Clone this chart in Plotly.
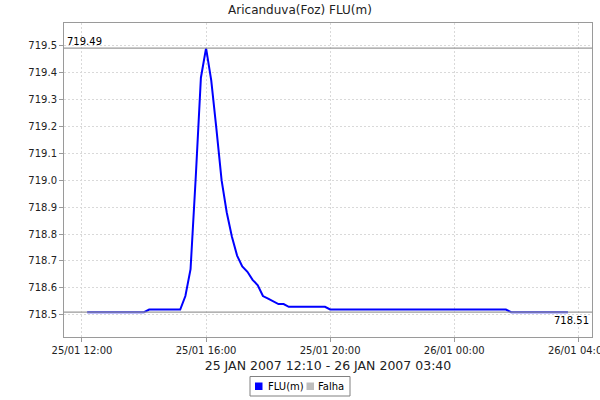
import plotly.graph_objects as go
import pandas as pd

# ---- data ----
times = pd.date_range("2007-01-25 12:10", "2007-01-26 03:40", freq="10min")
flu = (
    [718.51] * 12 +
    [718.52] * 7 +
    [718.57, 718.67, 719.01, 719.38, 719.49, 719.37, 719.19, 719.00, 718.88, 718.79,
     718.72, 718.68, 718.66, 718.63, 718.61, 718.57, 718.56, 718.55, 718.54, 718.54] +
    [718.53] * 8 +
    [718.52] * 35 +
    [718.51] * 12
)
ref_values = [719.49, 718.51]
ref_labels = ["719.49", "718.51"]
title_text = "Aricanduva(Foz) FLU(m)"
xtitle_text = "25 JAN 2007 12:10 - 26 JAN 2007 03:40"
series_names = ["FLU(m)", "Falha"]
series_colors = ["#0000FF", "#BDBDBD"]

FONT = "DejaVu Sans"
W, H = 600, 400
ML, MR, MT, MB = 64, 8, 23, 63
PW, PH = W - ML - MR, H - MT - MB


def px_x(x):
    return (x - ML) / PW


def px_y(y):
    return (H - MB - y) / PH


fig = go.Figure()
fig.add_trace(go.Scatter(
    x=times, y=flu, mode="lines", name=series_names[0],
    line=dict(color=series_colors[0], width=2),
    showlegend=False,
))

# reference lines
for v in ref_values:
    fig.add_shape(type="line", xref="paper", x0=0, x1=1, yref="y", y0=v, y1=v,
                  line=dict(color="#9a9a9a", width=1.3), layer="above")
fig.add_annotation(xref="paper", x=0.002, y=ref_values[0], yref="y",
                   text=ref_labels[0], showarrow=False, xanchor="left", yanchor="bottom",
                   yshift=-1, font=dict(family=FONT, size=10, color="#000"))
fig.add_annotation(xref="paper", x=0.998, y=ref_values[1], yref="y",
                   text=ref_labels[1], showarrow=False, xanchor="right", yanchor="top",
                   yshift=-1, font=dict(family=FONT, size=10, color="#000"))

# legend drawn manually (box + swatches + labels)
fig.add_shape(type="rect", xref="paper", yref="paper",
              x0=px_x(250), x1=px_x(350), y0=px_y(376.5), y1=px_y(396),
              line=dict(color="#808080", width=1), fillcolor="white")
legend_items = [(255, 266), (306.5, 316)]
for (sx, tx), name, col in zip(legend_items, series_names, series_colors):
    fig.add_shape(type="rect", xref="paper", yref="paper",
                  x0=px_x(sx), x1=px_x(sx + 7.5), y0=px_y(382.5), y1=px_y(390),
                  line=dict(width=0), fillcolor=col)
    fig.add_annotation(xref="paper", yref="paper", x=px_x(tx), y=px_y(386.3),
                       text=name, showarrow=False, xanchor="left", yanchor="middle",
                       font=dict(family=FONT, size=10, color="#000"))

axis_common = dict(
    showline=True, linecolor="#9a9a9a", linewidth=1, mirror=True,
    ticks="outside", ticklen=4, tickcolor="#9a9a9a",
    showgrid=True, gridcolor="#d9d9d9", griddash="2px,2px", gridwidth=1,
    zeroline=False,
    tickfont=dict(family=FONT, size=10, color="#222"),
)

fig.update_layout(
    width=W, height=H,
    margin=dict(l=ML, r=MR, t=MT, b=MB, autoexpand=False),
    paper_bgcolor="white", plot_bgcolor="white",
    title=dict(text=title_text, x=0.5, xref="container", xanchor="center",
               y=0.975, yref="container", yanchor="middle",
               font=dict(family=FONT, size=12, color="#222")),
    xaxis=dict(
        **axis_common,
        type="date",
        range=["2007-01-25 11:25:12", "2007-01-26 04:26:30"],
        tick0="2007-01-25 00:00", dtick=4 * 3600 * 1000,
        tickformat="%d/%m %H:%M",
        ticklabeloverflow="allow",
        title=dict(text=xtitle_text, standoff=6,
                   font=dict(family=FONT, size=12.5, color="#222")),
    ),
    yaxis=dict(
        **axis_common,
        range=[718.418, 719.583],
        dtick=0.1, tickformat=".1f",
    ),
    showlegend=False,
)

fig.write_html("out.html", config={"displayModeBar": False},
               post_script="document.body.style.margin='0';")
